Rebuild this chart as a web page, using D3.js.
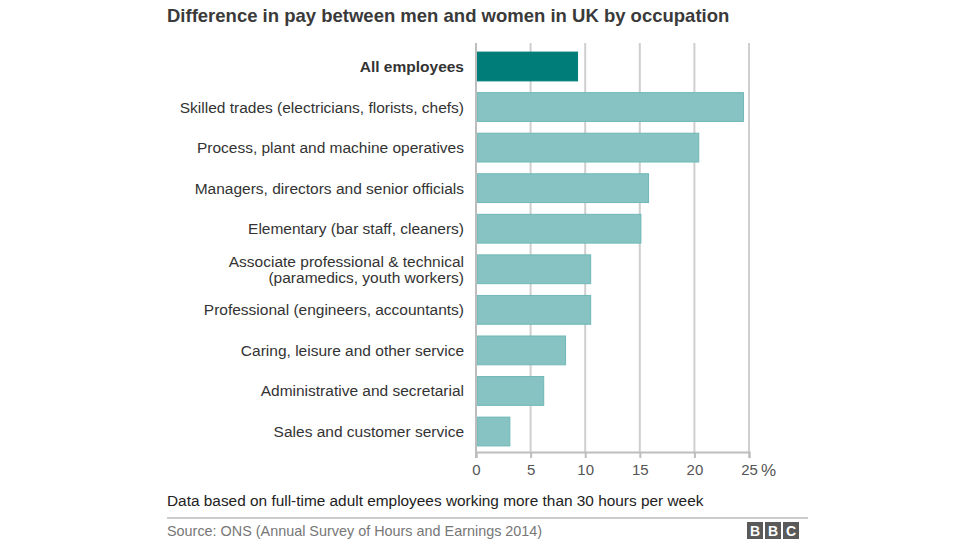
<!DOCTYPE html>
<html><head><meta charset="utf-8">
<script src="https://cdn.jsdelivr.net/npm/d3@7"></script>
<style>body{margin:0;background:#fff;font-family:Arial,"Liberation Sans",sans-serif;}</style>
</head><body><svg id="c" width="976" height="549"></svg>
<script>
const categories = ["All employees","Skilled trades (electricians, florists, chefs)","Process, plant and machine operatives","Managers, directors and senior officials","Elementary (bar staff, cleaners)","Associate professional & technical\n(paramedics, youth workers)","Professional (engineers, accountants)","Caring, leisure and other service","Administrative and secretarial","Sales and customer service"];
const values = [9.3,24.5,20.4,15.8,15.1,10.5,10.5,8.2,6.2,3.1];
const tickValues = [0,5,10,15,20,25];

const svg = d3.select("#c");
const F = "Arial,'Liberation Sans',sans-serif";
const x = d3.scaleLinear().domain([0,25]).range([476,749]);
const y = d3.scaleBand().domain(categories).range([46,452]).paddingInner(0.29).paddingOuter(0.15);

svg.append("text").attr("x",167).attr("y",22).attr("font-family",F).attr("font-size",18.5).attr("font-weight","bold").attr("fill","#3a3a3a").text("Difference in pay between men and women in UK by occupation");

// grid
svg.append("g").selectAll("line").data(tickValues.slice(1)).join("line")
  .attr("x1",d=>x(d)).attr("x2",d=>x(d)).attr("y1",43).attr("y2",452)
  .attr("stroke","#cfcfcf").attr("stroke-width",2);

// bars
svg.append("g").selectAll("rect").data(categories).join("rect")
  .attr("x",x(0)+1).attr("y",d=>y(d)).attr("height",y.bandwidth())
  .attr("width",(d,i)=>x(values[i])-x(0)-1)
  .attr("fill",(d,i)=>i===0?"#007d79":"#86c3c2")
  .attr("stroke",(d,i)=>i===0?"#007d79":"#6fb8b6").attr("stroke-width",1);

// left axis line
svg.append("line").attr("x1",x(0)).attr("x2",x(0)).attr("y1",43).attr("y2",458).attr("stroke","#bdbdbd").attr("stroke-width",2);

// bottom axis
const ax = svg.append("g").attr("transform","translate(0,452)")
  .call(d3.axisBottom(x).tickValues(tickValues).tickSize(6).tickPadding(6));
ax.select(".domain").attr("stroke","#bdbdbd").attr("stroke-width",2);
ax.selectAll(".tick line").attr("stroke","#bdbdbd").attr("stroke-width",2);
ax.selectAll(".tick text").attr("font-family",F).attr("font-size",15).attr("fill","#555");
svg.append("text").attr("x",x(25)+12).attr("y",476).attr("font-family",F).attr("font-size",17).attr("fill","#555").text("%");

// labels
const lab = svg.append("g").selectAll("text").data(categories).join("text")
  .attr("text-anchor","end").attr("font-family",F).attr("font-size",15.5).attr("fill","#333")
  .attr("font-weight",(d,i)=>i===0?"bold":"normal")
  .attr("x",464);
lab.each(function(d){
  const lines = d.split("\n");
  const t = d3.select(this);
  const cy = y(d)+y.bandwidth()/2;
  lines.forEach((l,j)=>{
    t.append("tspan").attr("x",464).attr("y",cy+5.5+(j-(lines.length-1)/2)*15.5).text(l);
  });
});

// footer
svg.append("text").attr("x",167).attr("y",506).attr("font-family",F).attr("font-size",15.4).attr("fill","#222").text("Data based on full-time adult employees working more than 30 hours per week");
svg.append("line").attr("x1",167).attr("x2",808).attr("y1",518).attr("y2",518).attr("stroke","#999").attr("stroke-width",1);
svg.append("text").attr("x",167).attr("y",536).attr("font-family",F).attr("font-size",14.4).attr("fill","#777").text("Source: ONS (Annual Survey of Hours and Earnings 2014)");
const bbc = svg.append("g");
["B","B","C"].forEach((c,i)=>{
  bbc.append("rect").attr("x",747+i*18).attr("y",522).attr("width",16).attr("height",17).attr("fill","#5a5a5a");
  bbc.append("text").attr("x",755+i*18).attr("y",536).attr("text-anchor","middle").attr("font-family",F).attr("font-size",14).attr("font-weight","bold").attr("fill","#fff").text(c);
});
</script></body></html>
